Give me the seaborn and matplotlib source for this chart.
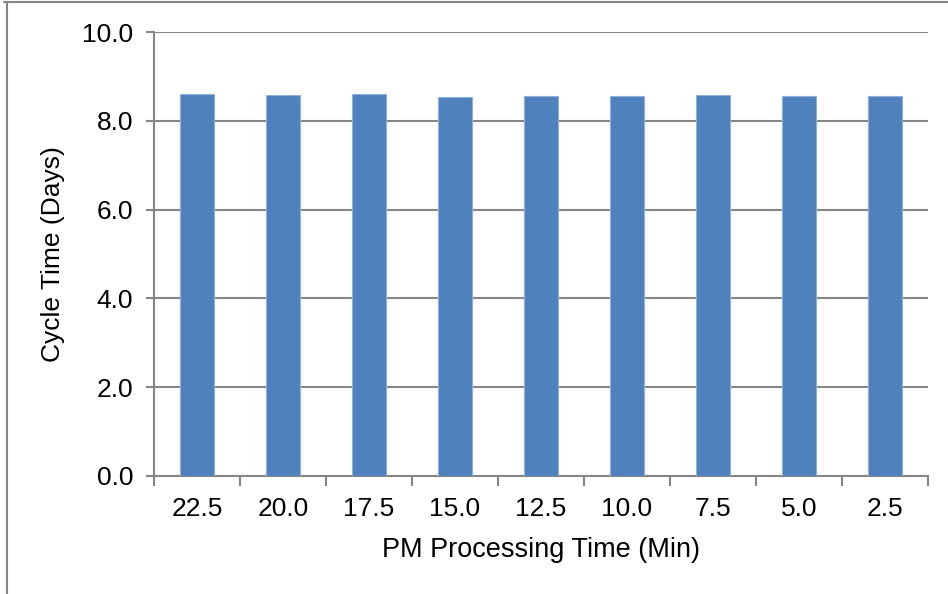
import matplotlib
matplotlib.use("Agg")
import matplotlib.pyplot as plt
from matplotlib.lines import Line2D
import numpy as np
import pandas as pd
import seaborn as sns

# PM processing time categories (minutes) and resulting cycle time (days)
pm_time = ["22.5", "20.0", "17.5", "15.0", "12.5", "10.0", "7.5", "5.0", "2.5"]
cycle_days = [8.61, 8.58, 8.60, 8.55, 8.56, 8.56, 8.59, 8.57, 8.57]
y_ticks = [0.0, 2.0, 4.0, 6.0, 8.0, 10.0]

df = pd.DataFrame({"pm": pm_time, "cycle": cycle_days})

sns.set_theme(style="white")
plt.rcParams["font.family"] = ["Liberation Sans", "DejaVu Sans"]

GRAY = "#868686"
BLUE = "#4F81BD"
FS = 19

fig = plt.figure(figsize=(9.48, 5.94), dpi=100)
ax = fig.add_axes([0.1624, 0.1991, 0.979 - 0.1624, 0.9456 - 0.1991])

sns.barplot(data=df, x="pm", y="cycle", order=pm_time, color=BLUE,
            saturation=1, width=0.4, edgecolor="#8FB0DA", linewidth=0.8,
            ax=ax, zorder=3)

ax.set_ylim(0, 10)
ax.set_xlim(-0.5, len(pm_time) - 0.5)
ax.set_yticks(y_ticks)
ax.set_yticklabels([f"{v:.1f}" for v in y_ticks], fontsize=FS, color="black")
ax.yaxis.grid(True, color=GRAY, linewidth=1.5, zorder=0)
ax.xaxis.grid(False)
ax.set_axisbelow(True)

# category boundaries carry the tick marks, centres carry the labels
ax.set_xticks(np.arange(-0.5, len(pm_time), 1.0))
ax.set_xticklabels([])
ax.set_xticks(np.arange(len(pm_time)), minor=True)
ax.set_xticklabels(pm_time, minor=True, fontsize=FS, color="black")
ax.tick_params(axis="x", which="major", direction="out", length=7,
               width=1.5, color=GRAY, bottom=True)
ax.tick_params(axis="x", which="minor", length=0, pad=15)
ax.tick_params(axis="y", direction="out", length=6, width=1.5,
               color=GRAY, left=True, pad=9)

for side in ("top", "right"):
    ax.spines[side].set_visible(False)
for side in ("left", "bottom"):
    ax.spines[side].set_color(GRAY)
    ax.spines[side].set_linewidth(1.5)

ax.set_xlabel("PM Processing Time (Min)", fontsize=FS + 0.5, color="black", labelpad=12)
ax.set_ylabel("Cycle Time (Days)", fontsize=FS, color="black", labelpad=12)

# outer chart frame
fig.add_artist(Line2D([7 / 948, 7 / 948], [0, 1 - 2 / 594],
                      transform=fig.transFigure, color=GRAY, linewidth=1.5))
fig.add_artist(Line2D([4 / 948, 1], [1 - 2 / 594, 1 - 2 / 594],
                      transform=fig.transFigure, color=GRAY, linewidth=1.5))

fig.savefig("out.png", dpi=100)
